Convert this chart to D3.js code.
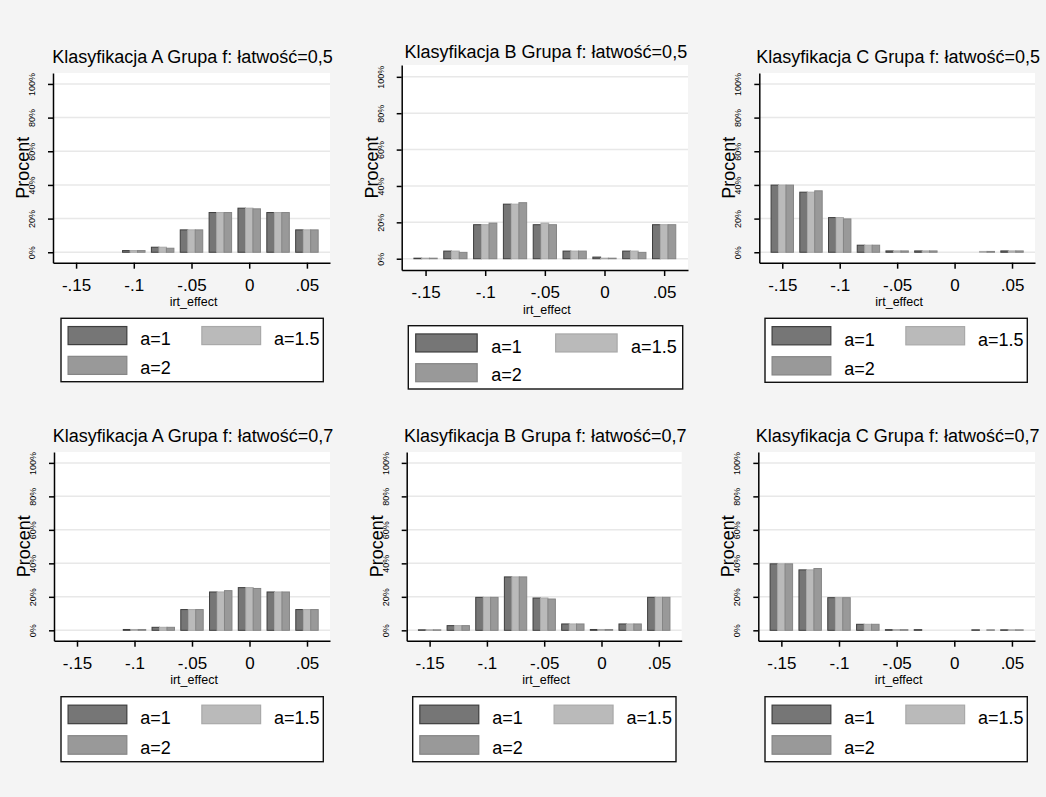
<!DOCTYPE html>
<html>
<head>
<meta charset="utf-8">
<script src="https://cdn.jsdelivr.net/npm/d3@7"></script>
<style>
  html, body { margin: 0; padding: 0; background: #f4f4f4; }
  svg { display: block; }
  text { font-family: "Liberation Sans", Arial, sans-serif; fill: #000; }
</style>
</head>
<body>
<svg id="chart" width="1046" height="797"></svg>
<script>
// ---------- DATA ----------
const bins = [-0.15, -0.125, -0.1, -0.075, -0.05, -0.025, 0, 0.025, 0.05];
const xTicks = [-0.15, -0.1, -0.05, 0, 0.05];
const xTickLabels = ["-.15", "-.1", "-.05", "0", ".05"];
const yTicks = [0, 20, 40, 60, 80, 100];
const yTickLabels = ["0%", "20%", "40%", "60%", "80%", "100%"];
const seriesNames = ["a=1", "a=1.5", "a=2"];
const panelTitles = [
  "Klasyfikacja A Grupa f: łatwość=0,5",
  "Klasyfikacja B Grupa f: łatwość=0,5",
  "Klasyfikacja C Grupa f: łatwość=0,5",
  "Klasyfikacja A Grupa f: łatwość=0,7",
  "Klasyfikacja B Grupa f: łatwość=0,7",
  "Klasyfikacja C Grupa f: łatwość=0,7"
];
const yTitle = "Procent";
const xTitle = "irt_effect";

// percent per bin, for a=1, a=1.5, a=2
const A05_a1  = [0, 0, 1.0, 3.0, 13.3, 23.6, 26.2, 23.6, 13.3];
const A05_a15 = [0, 0, 1.0, 3.0, 13.3, 23.6, 26.2, 23.6, 13.3];
const A05_a2  = [0, 0, 1.0, 2.4, 13.3, 23.6, 25.8, 23.6, 13.3];

const B05_a1  = [0.3, 4.2, 18.7, 30.0, 18.7, 4.2, 0.9, 4.2, 18.7];
const B05_a15 = [0.3, 4.2, 18.7, 30.0, 19.6, 4.2, 0.3, 4.2, 18.7];
const B05_a2  = [0.3, 3.5, 19.6, 30.8, 18.7, 4.2, 0.3, 3.5, 18.7];

const C05_a1  = [39.9, 35.7, 20.6, 4.2, 0.8, 0.8, 0, 0, 0.8];
const C05_a15 = [39.9, 35.7, 20.6, 4.2, 0.8, 0.8, 0, 0.5, 0.8];
const C05_a2  = [39.9, 36.5, 19.8, 4.2, 0.8, 0.8, 0, 0.5, 0.8];

const A07_a1  = [0, 0, 0.5, 1.8, 12.4, 22.9, 25.5, 22.9, 12.4];
const A07_a15 = [0, 0, 0.5, 1.8, 12.4, 22.9, 25.5, 22.9, 12.4];
const A07_a2  = [0, 0, 0.5, 1.8, 12.4, 23.7, 25.0, 22.9, 12.4];

const B07_a1  = [0.3, 2.8, 19.7, 31.9, 19.3, 3.8, 0.5, 3.8, 19.7];
const B07_a15 = [0.3, 2.8, 19.7, 31.9, 19.3, 3.8, 0.5, 3.8, 19.7];
const B07_a2  = [0.3, 2.8, 19.7, 31.9, 18.7, 3.8, 0.5, 3.8, 19.7];

const C07_a1  = [39.7, 36.1, 19.5, 3.6, 0.4, 0.4, 0, 0.3, 0.3];
const C07_a15 = [39.7, 36.1, 19.5, 3.6, 0.4, 0, 0, 0, 0.3];
const C07_a2  = [39.7, 36.9, 19.5, 3.6, 0.4, 0, 0, 0.3, 0.3];

const panelSeries = [
  [A05_a1, A05_a15, A05_a2],
  [B05_a1, B05_a15, B05_a2],
  [C05_a1, C05_a15, C05_a2],
  [A07_a1, A07_a15, A07_a2],
  [B07_a1, B07_a15, B07_a2],
  [C07_a1, C07_a15, C07_a2]
];

// ---------- LAYOUT / STYLE ----------
const xDomain = [-0.17, 0.07];
const yDomain = [-6.2, 106.5];
const barWidthData = 0.0065;
const fills   = ["#767676", "#bababa", "#999999"];
const strokes = ["#3e3e3e", "#a9a9a9", "#858585"];

const layout = [
  { x0: 53,    x1: 330,  y0: 73,  y1: 262.7, titleY: 63.3, leg: [61, 318.3, 323.3, 381.7] },
  { x0: 401.7, x1: 688,  y0: 65,  y1: 270,   titleY: 58.3, leg: [408.3, 325.7, 682.7, 389] },
  { x0: 759.3, x1: 1035, y0: 73,  y1: 262.7, titleY: 63.3, leg: [765, 318.3, 1027.3, 382.3] },
  { x0: 54,    x1: 330,  y0: 452, y1: 640.7, titleY: 442.3, leg: [61, 696.7, 323.3, 761.7] },
  { x0: 406.7, x1: 681.7, y0: 452, y1: 640.7, titleY: 442.3, leg: [412.7, 696.7, 676, 761.7] },
  { x0: 758.3, x1: 1035, y0: 452, y1: 640.7, titleY: 442.3, leg: [765, 696.7, 1027.3, 761.7] }
];

const svg = d3.select("#chart");
svg.append("rect").attr("width", 1046).attr("height", 797).attr("fill", "#f4f4f4");

layout.forEach((L, p) => {
  const g = svg.append("g");
  const x = d3.scaleLinear().domain(xDomain).range([L.x0, L.x1]);
  const y = d3.scaleLinear().domain(yDomain).range([L.y1, L.y0]);

  // plot region
  g.append("rect").attr("x", L.x0).attr("y", L.y0)
    .attr("width", L.x1 - L.x0).attr("height", L.y1 - L.y0).attr("fill", "#ffffff");

  // gridlines
  g.selectAll(".grid").data(yTicks).enter().append("line")
    .attr("x1", L.x0).attr("x2", L.x1)
    .attr("y1", d => y(d)).attr("y2", d => y(d))
    .attr("stroke", "#e8e8e8").attr("stroke-width", 1.5);

  // bars
  const bw = x(barWidthData) - x(0);
  panelSeries[p].forEach((vals, s) => {
    g.selectAll(".bar" + s).data(bins.map((b, i) => ({ b, v: vals[i] })).filter(d => d.v > 0))
      .enter().append("rect")
      .attr("x", d => x(d.b) - 1.5 * bw + s * bw)
      .attr("width", bw)
      .attr("y", d => y(d.v))
      .attr("height", d => Math.max(0.01, y(0) - y(d.v)))
      .attr("fill", fills[s])
      .attr("stroke", strokes[s])
      .attr("stroke-width", 1);
  });

  // x axis
  const xa = g.append("g").attr("transform", `translate(0,${L.y1})`)
    .call(d3.axisBottom(x).tickValues(xTicks)
      .tickFormat((d, i) => xTickLabels[i]).tickSize(6).tickSizeOuter(0).tickPadding(11));
  xa.select(".domain").attr("stroke", "#000").attr("stroke-width", 1.5);
  xa.selectAll(".tick line").attr("stroke", "#000").attr("stroke-width", 1.5);
  xa.selectAll(".tick text").attr("font-size", 17).attr("dy", "0.66em")
    .attr("font-family", "Liberation Sans, Arial, sans-serif");

  // y axis
  const ya = g.append("g").attr("transform", `translate(${L.x0},0)`)
    .call(d3.axisLeft(y).tickValues(yTicks)
      .tickFormat((d, i) => yTickLabels[i]).tickSize(5).tickSizeOuter(0));
  ya.select(".domain").attr("stroke", "#000").attr("stroke-width", 1.5);
  ya.selectAll(".tick line").attr("stroke", "#000").attr("stroke-width", 1.5);
  ya.selectAll(".tick text")
    .attr("x", null).attr("dy", null)
    .attr("transform", "translate(-18,0) rotate(-90)")
    .attr("text-anchor", "middle")
    .attr("font-size", 9)
    .attr("fill", "#111")
    .attr("font-family", "Liberation Sans, Arial, sans-serif");

  // y title
  g.append("text")
    .attr("transform", `translate(${L.x0 - 24},${(L.y0 + L.y1) / 2}) rotate(-90)`)
    .attr("text-anchor", "middle").attr("font-size", 18).text(yTitle);

  // x title
  g.append("text").attr("x", (L.x0 + L.x1) / 2 + 2).attr("y", L.y1 + 43.5)
    .attr("text-anchor", "middle").attr("font-size", 12.5).text(xTitle);

  // panel title
  g.append("text").attr("x", (L.x0 + L.x1) / 2 + 1).attr("y", L.titleY)
    .attr("text-anchor", "middle").attr("font-size", 18).text(panelTitles[p]);

  // legend
  const [lx0, ly0, lx1, ly1] = L.leg;
  const W = lx1 - lx0, H = ly1 - ly0;
  const lg = g.append("g");
  lg.append("rect").attr("x", lx0).attr("y", ly0).attr("width", W).attr("height", H)
    .attr("fill", "#ffffff").attr("stroke", "#111").attr("stroke-width", 1.4);
  const items = [
    { s: 0, sx: 0.027, tx: 0.302, row: 0 },
    { s: 1, sx: 0.537, tx: 0.812, row: 0 },
    { s: 2, sx: 0.027, tx: 0.302, row: 1 }
  ];
  items.forEach(it => {
    const ry = it.row === 0 ? 0.13 : 0.6;
    const rb = it.row === 0 ? 0.425 : 0.88;
    lg.append("rect").attr("x", lx0 + it.sx * W).attr("y", ly0 + ry * H)
      .attr("width", 0.224 * W).attr("height", 0.285 * H)
      .attr("fill", fills[it.s]).attr("stroke", strokes[it.s]).attr("stroke-width", 1.2);
    lg.append("text").attr("x", lx0 + it.tx * W).attr("y", ly0 + rb * H)
      .attr("font-size", 18).text(seriesNames[it.s]);
  });
});
</script>
</body>
</html>
